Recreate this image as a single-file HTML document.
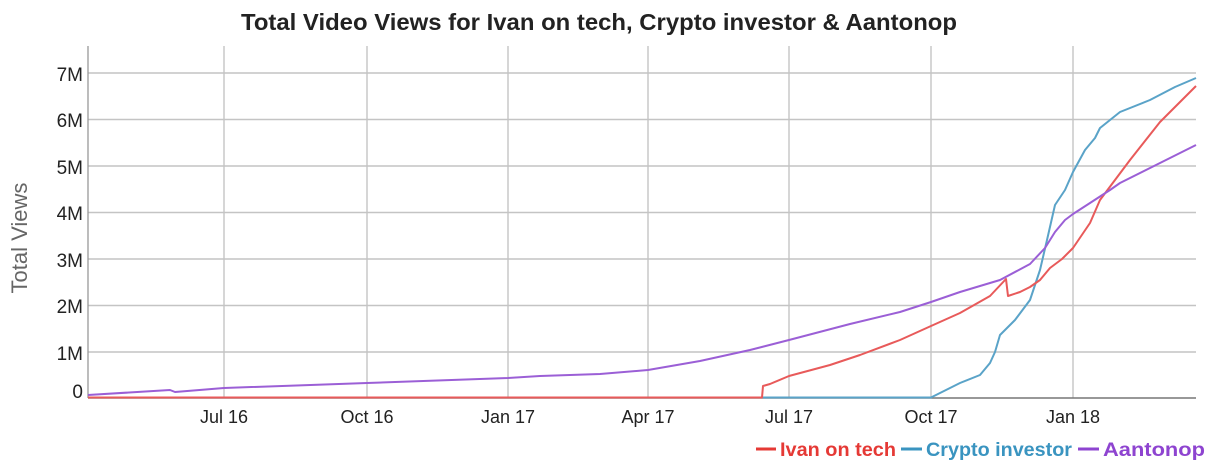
<!DOCTYPE html>
<html><head><style>
body{margin:0;background:#fff;}
svg{display:block;font-family:"Liberation Sans",sans-serif;}
</style></head><body>
<svg width="1208" height="468" viewBox="0 0 1208 468">
<text x="599" y="30" text-anchor="middle" font-size="23" font-weight="bold" fill="#222" textLength="716" lengthAdjust="spacingAndGlyphs">Total Video Views for Ivan on tech, Crypto investor &amp; Aantonop</text>
<g stroke="#c4c4c4" stroke-width="1.4">
<line x1="88" x2="1196" y1="73" y2="73"/><line x1="88" x2="1196" y1="119.5" y2="119.5"/>
<line x1="88" x2="1196" y1="166" y2="166"/><line x1="88" x2="1196" y1="212.5" y2="212.5"/>
<line x1="88" x2="1196" y1="259" y2="259"/><line x1="88" x2="1196" y1="305.5" y2="305.5"/>
<line x1="88" x2="1196" y1="352" y2="352"/>
<line x1="224" x2="224" y1="46" y2="398"/><line x1="367" x2="367" y1="46" y2="398"/>
<line x1="508" x2="508" y1="46" y2="398"/><line x1="648" x2="648" y1="46" y2="398"/>
<line x1="789" x2="789" y1="46" y2="398"/><line x1="931" x2="931" y1="46" y2="398"/>
<line x1="1073" x2="1073" y1="46" y2="398"/>
</g>
<line x1="88" x2="88" y1="46" y2="398" stroke="#999" stroke-width="1.3"/>
<line x1="88" x2="1196" y1="398" y2="398" stroke="#777" stroke-width="1.5"/>
<g font-size="19" fill="#222" text-anchor="end">
<text x="83" y="81">7M</text><text x="83" y="127">6M</text><text x="83" y="174">5M</text>
<text x="83" y="220">4M</text><text x="83" y="267">3M</text><text x="83" y="313">2M</text>
<text x="83" y="360">1M</text><text x="83" y="398">0</text>
</g>
<g font-size="18" fill="#222" text-anchor="middle">
<text x="224" y="423">Jul 16</text><text x="367" y="423">Oct 16</text><text x="508" y="423">Jan 17</text>
<text x="648" y="423">Apr 17</text><text x="789" y="423">Jul 17</text><text x="931" y="423">Oct 17</text>
<text x="1073" y="423">Jan 18</text>
</g>
<text transform="translate(27,238) rotate(-90)" font-size="22" fill="#666" text-anchor="middle">Total Views</text>
<g fill="none" stroke-width="2" stroke-linejoin="round">
<polyline stroke="#5aa3c8" points="88,397.5 931,397.5 940,393 960,383 980,375 990,363 995,352 1000,335 1015,320 1030,300 1040,270 1047,240 1055,205 1065,190 1073,172 1085,150 1095,138 1100,128 1120,112 1150,100 1175,87 1196,78"/>
<polyline stroke="#e85a5a" points="88,397.5 762,397.5 763,386 770,384 789,376 830,365 860,355 900,340 931,326 960,313 990,296 1006,279 1008,296 1020,292 1030,287 1040,280 1050,268 1062,259 1073,248 1090,223 1100,200 1115,180 1130,160 1160,122 1196,86"/>
<polyline stroke="#9b5fd6" points="88,395 170,390 175,392 224,388 367,383 508,378 540,376 600,374 648,370 700,361 750,350 789,340 850,324 900,312 931,302 960,292 1000,280 1030,264 1045,248 1055,232 1065,220 1073,214 1090,203 1110,190 1120,183 1150,168 1196,145"/>
</g>
<g font-size="19" font-weight="bold">
<line x1="756" x2="776" y1="449" y2="449" stroke="#e53935" stroke-width="3"/>
<text x="780" y="456" fill="#e53935" textLength="116" lengthAdjust="spacingAndGlyphs">Ivan on tech</text>
<line x1="901" x2="922" y1="449" y2="449" stroke="#3a94c0" stroke-width="3"/>
<text x="926" y="456" fill="#3a94c0" textLength="146" lengthAdjust="spacingAndGlyphs">Crypto investor</text>
<line x1="1078" x2="1099" y1="449" y2="449" stroke="#8e44d0" stroke-width="3"/>
<text x="1103" y="456" fill="#8e44d0" textLength="102" lengthAdjust="spacingAndGlyphs">Aantonop</text>
</g>
</svg>
</body></html>
